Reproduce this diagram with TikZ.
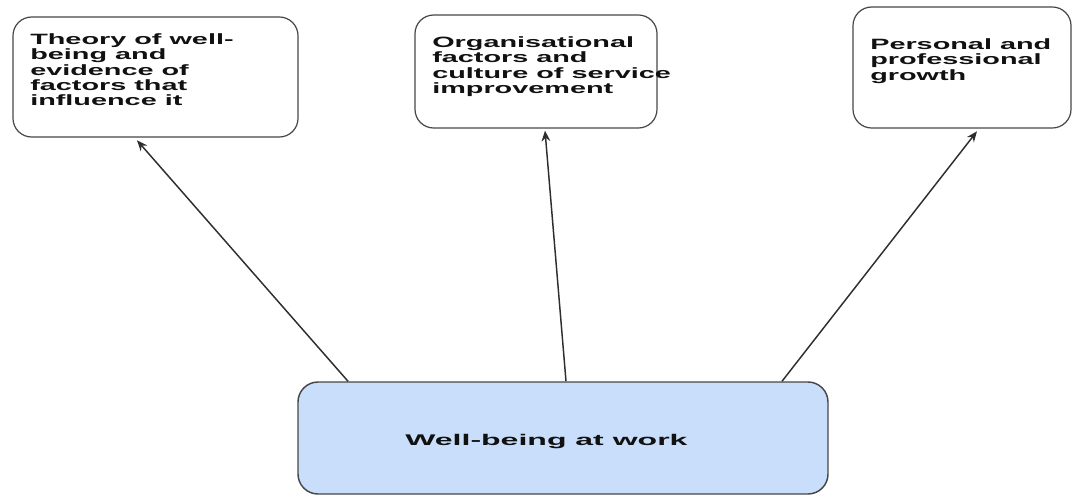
\documentclass[tikz,border=0pt]{standalone}
\usepackage{fontspec}
\setmainfont{Liberation Sans}
\usepackage{graphicx}
\usetikzlibrary{arrows.meta}

\definecolor{edgegray}{HTML}{474747}
\definecolor{linegray}{HTML}{2E2E2E}
\definecolor{hubfill}{HTML}{C9DEFA}
\definecolor{ink}{HTML}{111111}

% stretched bold label, several lines, first baseline at the anchor
\newcommand{\boxtext}[1]{%
  \fontsize{11.2}{11.25}\selectfont\bfseries
  \scalebox{1.93}[1]{\begin{tabular}[t]{@{}l@{}}#1\end{tabular}}}

\begin{document}
\begin{tikzpicture}[x=0.75pt,y=-0.75pt,
  topic/.style={draw=edgegray, line width=0.9pt, rounded corners=14pt,
    fill=white, inner sep=0pt},
  hub/.style={draw=edgegray, line width=1.1pt, rounded corners=15pt,
    fill=hubfill, inner sep=0pt},
  lbl/.style={anchor=base west, inner sep=0pt, text=ink},
  arr/.style={draw=linegray, line width=1.1pt,
    -{Stealth[length=8pt,width=6.5pt]}}]

  \useasboundingbox (0,0) rectangle (1073,497);

  % three topic boxes along the top
  \node[topic, minimum width=213.75pt, minimum height=90pt] (t1) at (155.5,77) {};
  \node[topic, minimum width=181.5pt, minimum height=84.75pt] (t2) at (536,71.5) {};
  \node[topic, minimum width=163.5pt, minimum height=90.75pt] (t3) at (962,67.5) {};

  % central box at the bottom
  \node[hub, minimum width=397.5pt, minimum height=84pt] (w) at (563,438) {};

  % labels
  \node[lbl] (l1) at (30,44.5) {\boxtext{Theory of well-\\being and\\evidence of\\factors that\\influence it}};
  \node[lbl] (l2) at (432,47.5) {\boxtext{Organisational\\factors and\\culture of service\\improvement}};
  \node[lbl] (l3) at (870,49.5) {\boxtext{Personal and\\professional\\growth}};
  \node[lbl] (lw) at (405,445.5) {\fontsize{11.6}{12}\selectfont\bfseries
    \scalebox{2.07}[1]{Well-being at work}};

  % connectors from the central box up to each topic
  \draw[arr] ([xshift=-161.25pt]w.north) -- ([xshift=-13.9pt,yshift=-2pt]t1.south);
  \draw[arr] ([xshift=2.25pt]w.north) -- ([xshift=6.75pt,yshift=-1.5pt]t2.south);
  \draw[arr] ([xshift=164.25pt]w.north) -- ([xshift=11.25pt,yshift=-2pt]t3.south);
\end{tikzpicture}
\end{document}
